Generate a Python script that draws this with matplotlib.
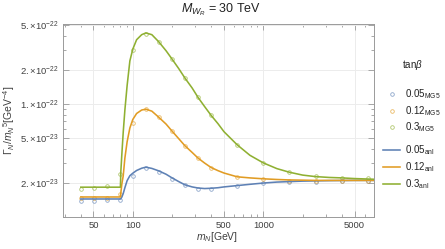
import matplotlib
matplotlib.use("Agg")
import matplotlib.pyplot as plt
from matplotlib.lines import Line2D
from matplotlib.ticker import FixedLocator, FuncFormatter, NullFormatter

# Mathematica default plot colours
BLUE, ORANGE, GREEN = "#5e81b5", "#e19c24", "#8fb032"
FRAME, TXT = "#9a9a9a", "#404040"

# ---- MG5 sample points (GeV, GeV^-4) ---------------------------------------
m_mg5 = [39.8, 50.1, 63.1, 79.4, 100, 125.9, 158.5, 199.5, 251.2, 316.2, 398.1,
         631, 1000, 1585, 2512, 3981, 6310]
mg5_005 = [1.38e-23, 1.38e-23, 1.39e-23, 1.40e-23, 2.31e-23, 2.70e-23, 2.48e-23, 2.14e-23,
           1.89e-23, 1.75e-23, 1.75e-23, 1.87e-23, 1.98e-23, 2.02e-23, 2.04e-23, 2.07e-23, 2.07e-23]
mg5_012 = [1.47e-23, 1.47e-23, 1.47e-23, 1.57e-23, 6.7e-23, 8.9e-23, 7.6e-23, 5.72e-23,
           4.24e-23, 3.27e-23, 2.72e-23, 2.24e-23, 2.14e-23, 2.07e-23, 2.07e-23, 2.07e-23, 2.08e-23]
mg5_03 = [1.74e-23, 1.79e-23, 1.88e-23, 2.4e-23, 3.01e-22, 4.18e-22, 3.50e-22, 2.49e-22,
          1.69e-22, 1.14e-22, 7.9e-23, 4.33e-23, 2.99e-23, 2.47e-23, 2.28e-23, 2.20e-23, 2.19e-23]

# ---- analytic curves --------------------------------------------------------
m_anl = [40, 80.4, 81, 82.5, 84.5, 87, 90.5, 95, 100, 107, 117, 126, 140, 158, 180, 200,
         225, 251, 285, 316, 355, 398, 450, 500, 630, 790, 1000, 1270, 1585, 2000, 2500,
         3200, 4000, 5000, 7050]
anl_005 = [1.43e-23, 1.43e-23, 1.44e-23, 1.49e-23, 1.60e-23, 1.80e-23, 2.08e-23, 2.30e-23,
           2.42e-23, 2.56e-23, 2.68e-23, 2.74e-23, 2.67e-23, 2.54e-23, 2.37e-23, 2.20e-23,
           2.04e-23, 1.91e-23, 1.83e-23, 1.79e-23, 1.77e-23, 1.78e-23, 1.80e-23, 1.83e-23,
           1.88e-23, 1.93e-23, 1.98e-23, 2.02e-23, 2.04e-23, 2.06e-23, 2.07e-23, 2.08e-23,
           2.085e-23, 2.09e-23, 2.09e-23]
anl_012 = [1.49e-23, 1.49e-23, 1.62e-23, 1.95e-23, 2.30e-23, 3.30e-23, 4.60e-23, 6.10e-23,
           7.25e-23, 8.20e-23, 8.80e-23, 8.95e-23, 8.60e-23, 7.60e-23, 6.60e-23, 5.72e-23,
           4.90e-23, 4.24e-23, 3.70e-23, 3.30e-23, 2.98e-23, 2.72e-23, 2.55e-23, 2.43e-23,
           2.25e-23, 2.20e-23, 2.16e-23, 2.13e-23, 2.11e-23, 2.10e-23, 2.09e-23, 2.09e-23,
           2.09e-23, 2.09e-23, 2.09e-23]
anl_03 = [1.82e-23, 1.82e-23, 2.5e-23, 3.6e-23, 5.6e-23, 8.8e-23, 1.45e-22, 2.40e-22,
          3.05e-22, 3.70e-22, 4.10e-22, 4.25e-22, 4.10e-22, 3.55e-22, 2.95e-22, 2.49e-22,
          2.05e-22, 1.69e-22, 1.38e-22, 1.14e-22, 9.45e-23, 7.9e-23, 6.65e-23, 5.65e-23,
          4.33e-23, 3.49e-23, 2.99e-23, 2.66e-23, 2.47e-23, 2.33e-23, 2.26e-23, 2.22e-23,
          2.20e-23, 2.17e-23, 2.14e-23]

TANB = ["0.05", "0.12", "0.3"]
COLORS = [BLUE, ORANGE, GREEN]
X_MAJOR = [50, 100, 500, 1000, 5000]
Y_MAJOR = [2e-23, 5e-23, 1e-22, 2e-22, 5e-22]

plt.rcParams.update({"font.family": ["Liberation Sans", "DejaVu Sans"],
                     "mathtext.fontset": "custom", "mathtext.rm": "Liberation Sans",
                     "mathtext.it": "Liberation Sans:italic", "mathtext.bf": "Liberation Sans:bold"})

fig = plt.figure(figsize=(4.45, 2.49), dpi=100)
ax = fig.add_axes([63 / 445, 1 - 216.5 / 249, 311 / 445, 192.5 / 249])
ax.set_xscale("log"); ax.set_yscale("log")
ax.set_xlim(29.2, 7050); ax.set_ylim(1e-23, 5.1e-22)

for v, c in zip([mg5_005, mg5_012, mg5_03], COLORS):
    ax.plot(m_mg5, v, ls="none", marker="o", ms=2.6, mfc="none", mec=c, mew=0.6, alpha=0.7, zorder=3)
for v, c in zip([anl_005, anl_012, anl_03], COLORS):
    ax.plot(m_anl, v, color=c, lw=1.15, zorder=4)

# ticks, grid, frame (Mathematica look)
ax.xaxis.set_major_locator(FixedLocator(X_MAJOR))
ax.xaxis.set_minor_locator(FixedLocator([k * 10 ** e for e in (1, 2, 3) for k in range(2, 10)
                                         if k * 10 ** e not in X_MAJOR]))
ax.xaxis.set_major_formatter(FuncFormatter(lambda v, p: f"{v:g}"))
ax.xaxis.set_minor_formatter(NullFormatter())
ax.yaxis.set_major_locator(FixedLocator(Y_MAJOR))
ax.yaxis.set_minor_locator(FixedLocator([k * 10.0 ** e for e in (-23, -22) for k in (1, 3, 4, 6, 7, 8, 9)]))


def ylab(v, p):
    e = int(f"{v:e}".split("e")[1]); m = round(v / 10 ** e)
    return rf"${m}.{{\times}}10^{{{e}}}$"


ax.yaxis.set_major_formatter(FuncFormatter(ylab))
ax.yaxis.set_minor_formatter(NullFormatter())
ax.tick_params(which="both", direction="in", top=True, right=True, colors=FRAME,
               labelcolor=TXT, labelsize=6.8, width=0.6)
ax.tick_params(which="major", length=4, pad=3)
ax.tick_params(which="minor", length=2.2)
for s in ax.spines.values():
    s.set_color(FRAME); s.set_linewidth(0.7)
ax.grid(True, which="major", color="#ececec", lw=0.7)
ax.set_axisbelow(True)

fig.text(221 / 445, 1 - 10 / 249, r"$M_{W_R}$ = 30 TeV", ha="center", va="center", fontsize=9, color="#222")
fig.text(217 / 445, 1 - 237 / 249, r"$m_N$[GeV]", ha="center", va="center", fontsize=7.5, color=TXT)
fig.text(9 / 445, 1 - 120 / 249, r"$\Gamma_N/m_N{}^5$[GeV$^{-4}$]", ha="center", va="center",
         rotation=90, fontsize=7.5, color=TXT)

# legend, placed by hand
fig.text(412 / 445, 1 - 65 / 249, r"tan$\beta$", ha="center", va="center", fontsize=7, color="#222")
for i, (t, c) in enumerate(zip(TANB, COLORS)):
    y = 1 - (94 + 16.7 * i) / 249
    fig.add_artist(Line2D([392 / 445], [y], ls="none", marker="o", ms=2.6, mfc="none", mec=c,
                          mew=0.6, alpha=0.7))
    fig.text(405 / 445, y, t + r"$_{\mathrm{MG5}}$", va="center", fontsize=7, color="#222")
    y = 1 - (150 + 17 * i) / 249
    fig.add_artist(Line2D([383 / 445, 400 / 445], [y, y], color=c, lw=1.15))
    fig.text(405 / 445, y, t + r"$_{\mathrm{anl}}$", va="center", fontsize=7, color="#222")

fig.savefig("out.png", dpi=100)
